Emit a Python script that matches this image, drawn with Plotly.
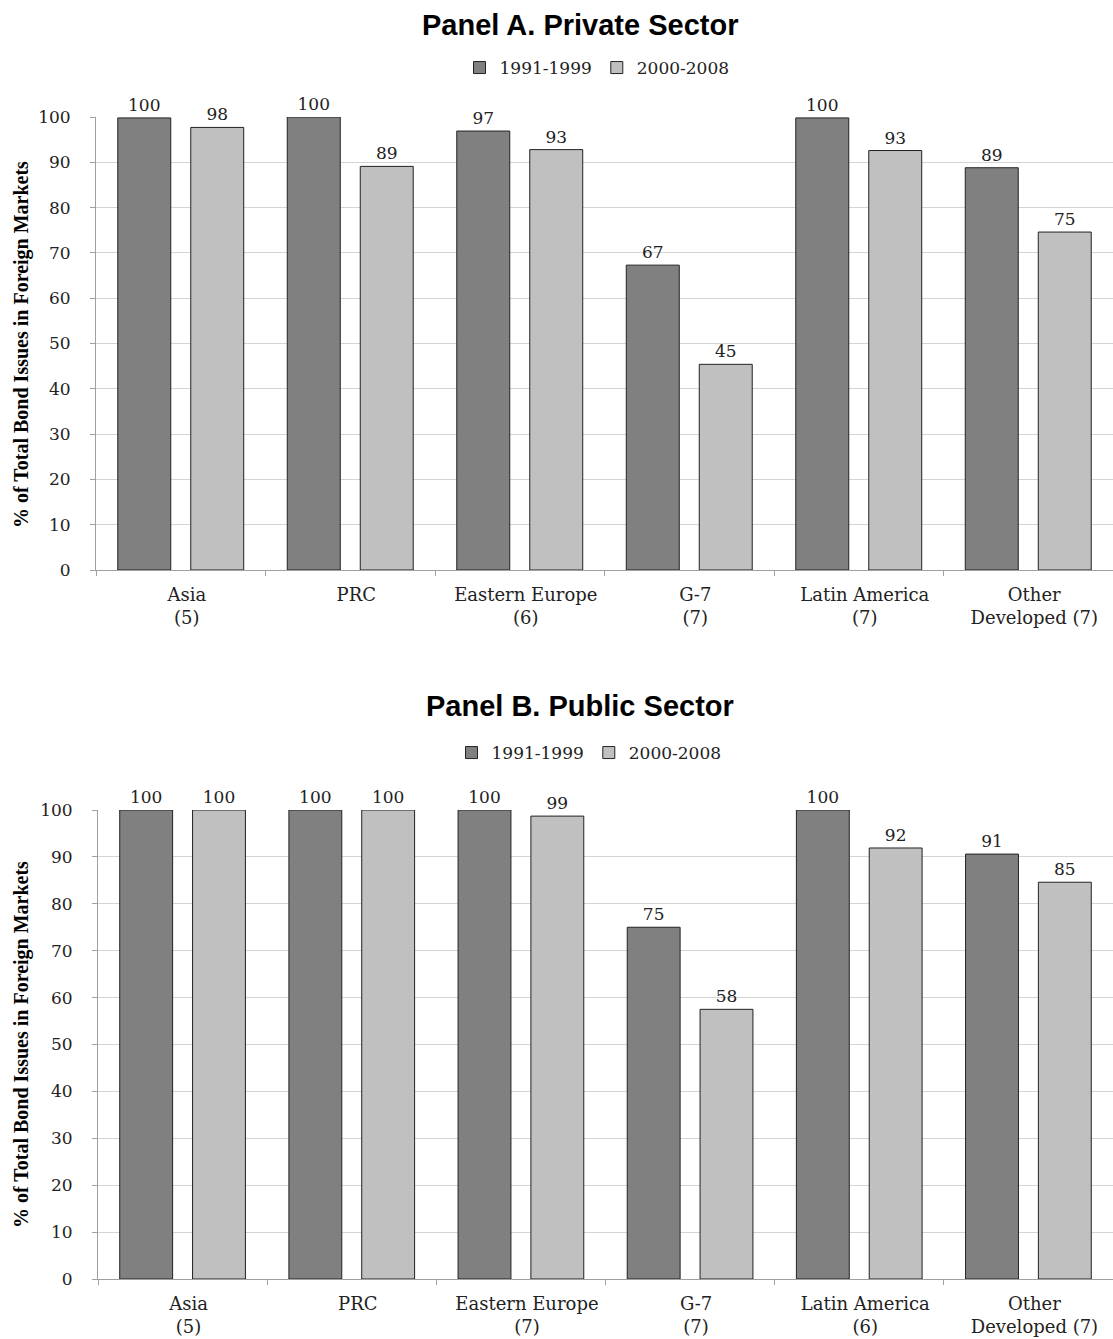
import plotly.graph_objects as go

categories = ["Asia<br>(5)", "PRC", "Eastern Europe<br>(6)", "G-7<br>(7)", "Latin America<br>(7)", "Other<br>Developed (7)"]
categories_b = ["Asia<br>(5)", "PRC", "Eastern Europe<br>(7)", "G-7<br>(7)", "Latin America<br>(6)", "Other<br>Developed (7)"]
series_names = ["1991-1999", "2000-2008"]

private_1991 = [99.8, 100.0, 96.9, 67.3, 99.8, 88.8]
private_2000 = [97.7, 89.1, 92.8, 45.4, 92.6, 74.6]
public_1991 = [100.0, 100.0, 100.0, 75.0, 100.0, 90.6]
public_2000 = [100.0, 100.0, 98.7, 57.5, 91.9, 84.6]

yticks = [0, 10, 20, 30, 40, 50, 60, 70, 80, 90, 100]

DARK = "#808080"
LIGHT = "#c0c0c0"
TICKFONT = dict(family="DejaVu Serif", size=17, color="#222222")
XTICKFONT = dict(family="DejaVu Serif", size=18, color="#222222")
W, H = 1113, 1339

fig = go.Figure()

def add_bars(cats, v1, v2, xa, ya, leg):
    for name, vals, col in [(series_names[0], v1, DARK), (series_names[1], v2, LIGHT)]:
        fig.add_trace(go.Bar(
            x=cats, y=vals, name=name, xaxis=xa, yaxis=ya, legend=leg,
            marker=dict(color=col, line=dict(color="#222222", width=1)),
            text=[f"{v:.0f}" for v in vals], textposition="outside",
            textfont=TICKFONT, cliponaxis=False, constraintext="none",
        ))

add_bars(categories, private_1991, private_2000, "x", "y", "legend")
add_bars(categories_b, public_1991, public_2000, "x2", "y2", "legend2")

def yax(domain, anchor):
    return dict(domain=domain, anchor=anchor, range=[0, 100], tickvals=yticks,
                showgrid=True, gridcolor="#d4d4d4", gridwidth=1,
                showline=True, linecolor="#a0a0a0", linewidth=1,
                ticks="outside", ticklen=5, tickcolor="#a0a0a0", automargin=False,
                tickfont=TICKFONT, ticklabelstandoff=16, zeroline=False, fixedrange=True)

def xax(domain, anchor):
    return dict(domain=domain, anchor=anchor, type="category",
                showline=True, linecolor="#a0a0a0", linewidth=1, automargin=False,
                ticks="outside", ticklen=5, tickcolor="#a0a0a0", tickson="boundaries",
                tickfont=XTICKFONT, ticklabelstandoff=8, ticklabelshift=6,
                showgrid=False, fixedrange=True)

LEGFONT = dict(family="DejaVu Serif", size=17, color="#222222")

fig.update_layout(
    width=W, height=H,
    margin=dict(l=0, r=0, t=0, b=0, pad=0, autoexpand=False),
    plot_bgcolor="white", paper_bgcolor="white",
    barmode="group", bargap=0.139, bargroupgap=0.274,
    xaxis=xax([96 / W, 1.0], "y"),
    yaxis=yax([1 - 570 / H, 1 - 117 / H], "x"),
    xaxis2=xax([98 / W, 1.0], "y2"),
    yaxis2=yax([1 - 1279 / H, 1 - 810 / H], "x2"),
    legend=dict(orientation="h", x=597 / W, y=1 - 68 / H, xanchor="center", yanchor="middle",
                font=LEGFONT, itemwidth=30, traceorder="normal", tracegroupgap=0),
    legend2=dict(orientation="h", x=589 / W, y=1 - 753 / H, xanchor="center", yanchor="middle",
                 font=LEGFONT, itemwidth=30, traceorder="normal", tracegroupgap=0),
    annotations=[
        dict(text="<b>Panel A. Private Sector</b>", x=580 / W, y=1 - 25 / H, xref="paper", yref="paper",
             showarrow=False, xanchor="center", yanchor="middle",
             font=dict(family="Liberation Sans", size=29, color="black")),
        dict(text="<b>Panel B. Public Sector</b>", x=580 / W, y=1 - 706 / H, xref="paper", yref="paper",
             showarrow=False, xanchor="center", yanchor="middle",
             font=dict(family="Liberation Sans", size=29, color="black")),
        dict(text="<b>% of Total Bond Issues in Foreign Markets</b>", x=21 / W, y=1 - 345 / H,
             xref="paper", yref="paper", showarrow=False, textangle=-90,
             xanchor="center", yanchor="middle",
             font=dict(family="Liberation Serif", size=20, color="black")),
        dict(text="<b>% of Total Bond Issues in Foreign Markets</b>", x=21 / W, y=1 - 1045 / H,
             xref="paper", yref="paper", showarrow=False, textangle=-90,
             xanchor="center", yanchor="middle",
             font=dict(family="Liberation Serif", size=20, color="black")),
    ],
)

fig.write_html("out.html", config={"displayModeBar": False},
               post_script="document.body.style.margin='0';")
